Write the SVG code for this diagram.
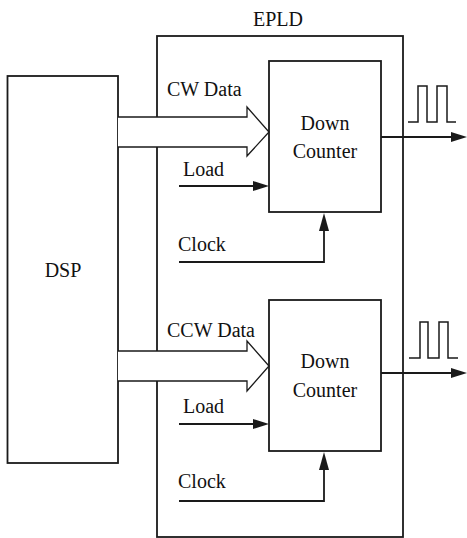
<svg xmlns="http://www.w3.org/2000/svg" width="467" height="538" viewBox="0 0 467 538">
<defs>
<style>
.box{fill:none;stroke:#1a1a1a;stroke-width:1.8}
.ln{fill:none;stroke:#1a1a1a;stroke-width:1.8}
.bus{fill:#fff;stroke:#1a1a1a;stroke-width:1.3}
.ah{fill:#1a1a1a;stroke:none}
</style>
</defs>
<rect width="467" height="538" fill="#fff"/>
<g font-family="Liberation Serif, Times New Roman, Tinos, DejaVu Serif, Noto Serif, serif" font-size="20" fill="#111">
<g id="epld">
<rect class="box" x="157" y="36" width="246" height="501"/>
<text x="278" y="26" text-anchor="middle">EPLD</text>
</g>
<g id="dsp">
<rect class="box" x="7.5" y="76" width="110.5" height="387"/>
<text x="63" y="277" text-anchor="middle">DSP</text>
</g>
<g id="counter1">
<rect class="box" x="269" y="61" width="112" height="151"/>
<text x="325" y="130" text-anchor="middle">Down</text>
<text x="325" y="158" text-anchor="middle">Counter</text>
</g>
<g id="counter2">
<rect class="box" x="269" y="300" width="112" height="151"/>
<text x="325" y="368" text-anchor="middle">Down</text>
<text x="325" y="397" text-anchor="middle">Counter</text>
</g>
<g id="connectors">
<path class="bus" d="M118,117 H247 V107 L269,132 L247,156 V147 H118"/>
<path class="bus" d="M118,351 H247 V341 L269,366 L247,391 V381 H118"/>
<text x="167" y="96">CW Data</text>
<text x="167" y="337">CCW Data</text>
<path class="ln" d="M179,186 H256"/>
<polygon class="ah" points="269,186 253,181 253,191"/>
<text x="183" y="176">Load</text>
<path class="ln" d="M179,424 H256"/>
<polygon class="ah" points="269,424 253,419 253,429"/>
<text x="183" y="413">Load</text>
<path class="ln" d="M179,262 H324 V226"/>
<polygon class="ah" points="324,213 319,231 329,231"/>
<text x="178" y="251">Clock</text>
<path class="ln" d="M179,501 H324 V464"/>
<polygon class="ah" points="324,452 319,470 329,470"/>
<text x="178" y="488">Clock</text>
<path class="ln" d="M381,137 H455"/>
<polygon class="ah" points="467,137 451,132 451,142"/>
<path class="ln" d="M381,373 H455"/>
<polygon class="ah" points="467,373 451,368 451,378"/>
<path class="ln" style="stroke-width:1.5" d="M408,122 H418 V86 H427 V122 H437 V86 H447 V122 H456"/>
<path class="ln" style="stroke-width:1.5" d="M409,358 H420 V322 H428 V358 H439 V322 H448 V358 H458"/>
</g>
</g>
</svg>
